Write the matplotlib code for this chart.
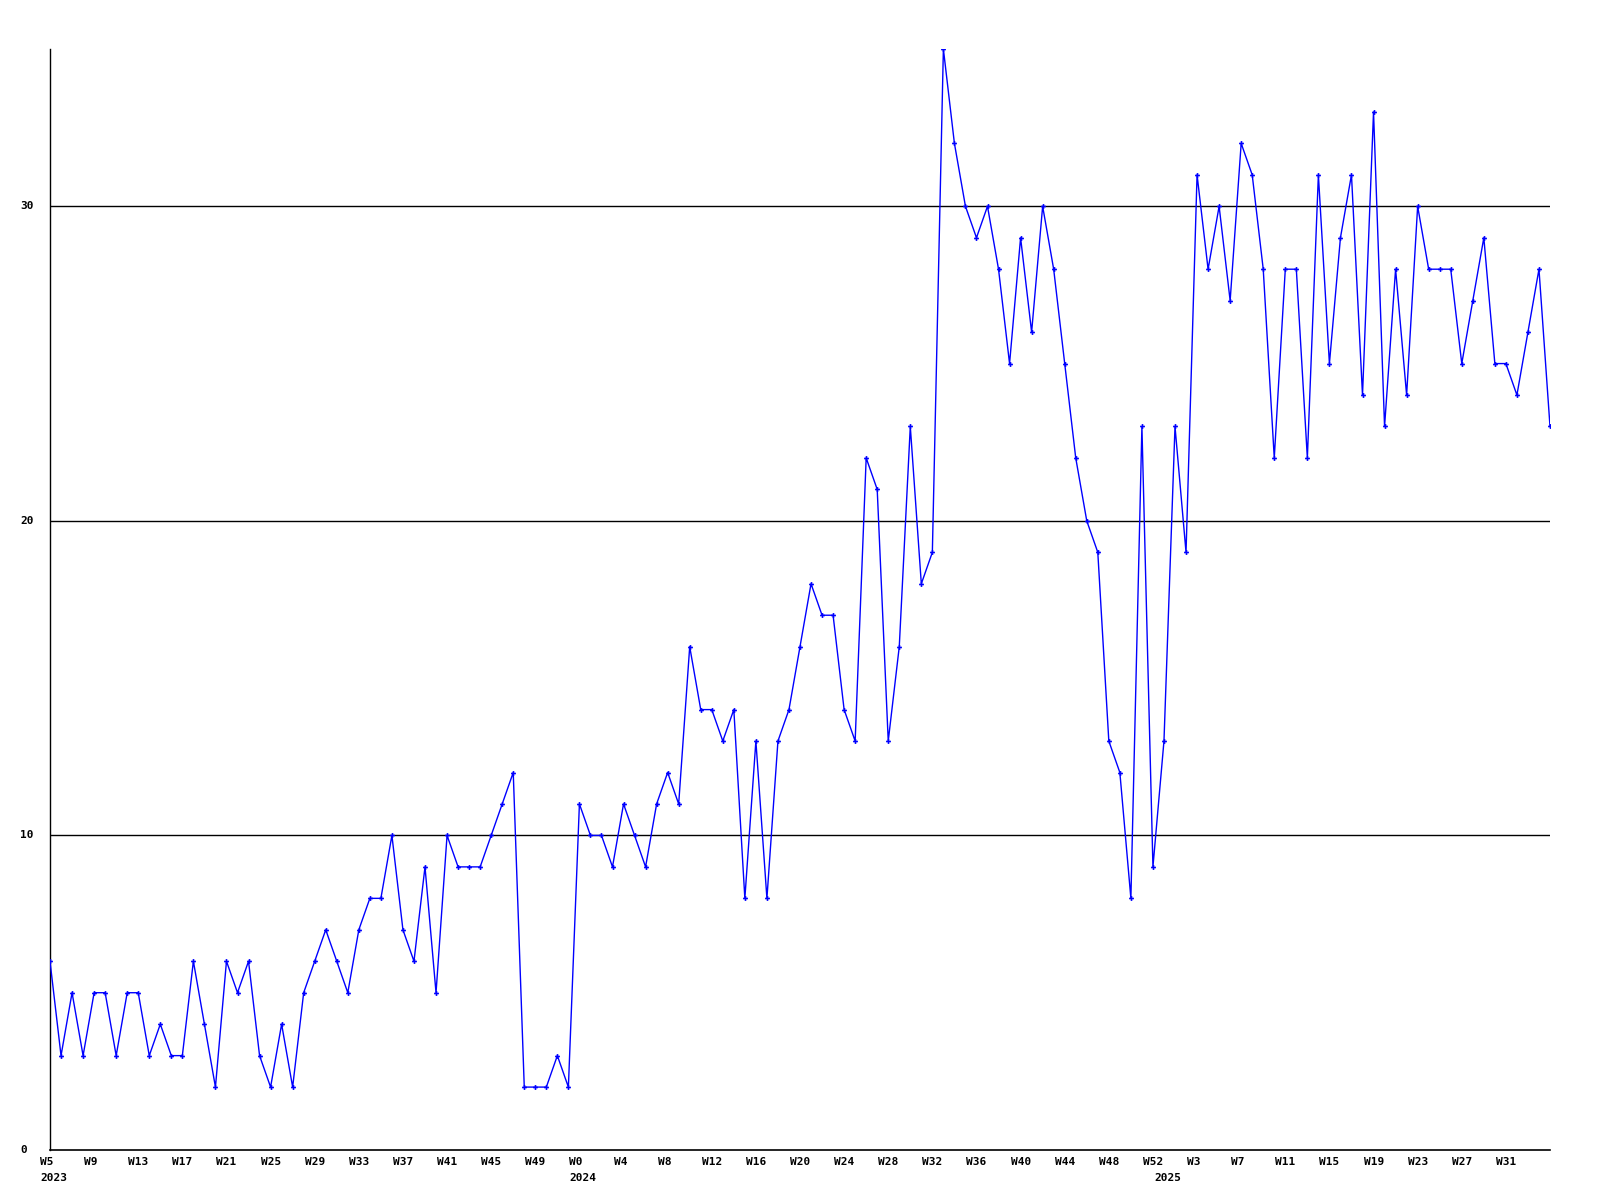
import matplotlib
matplotlib.use("Agg")
import matplotlib.pyplot as plt
from matplotlib import transforms

# weekly counts, W5 2023 .. W35 2025
values_2023 = [6, 3, 5, 3, 5, 5, 3, 5, 5, 3, 4, 3, 3, 6, 4, 2, 6, 5, 6, 3,
               2, 4, 2, 5, 6, 7, 6, 5, 7, 8, 8, 10, 7, 6, 9, 5, 10, 9, 9, 9,
               10, 11, 12, 2, 2, 2, 3, 2]
values_2024 = [11, 10, 10, 9, 11, 10, 9, 11, 12, 11, 16, 14, 14, 13, 14, 8, 13, 8,
               13, 14, 16, 18, 17, 17, 14, 13, 22, 21, 13, 16, 23, 18, 19, 35, 32,
               30, 29, 30, 28, 25, 29, 26, 30, 28, 25, 22, 20, 19, 13, 12, 8, 23, 9]
values_2025 = [13, 23, 19, 31, 28, 30, 27, 32, 31, 28, 22, 28, 28, 22, 31, 25, 29,
               31, 24, 33, 23, 28, 24, 30, 28, 28, 28, 25, 27, 29, 25, 25, 24, 26,
               28, 23]

weeks_2023 = list(range(5, 53))
weeks_2024 = list(range(0, 53))
weeks_2025 = list(range(0, 36))

values = values_2023 + values_2024 + values_2025
weeks = weeks_2023 + weeks_2024 + weeks_2025
years = {0: "2023", len(weeks_2023): "2024", len(weeks_2023) + len(weeks_2024): "2025"}
y_grid = [10, 20, 30]

fig = plt.figure(figsize=(16, 12), dpi=100)
ax = fig.add_axes([50 / 1600, 50 / 1200, 1500 / 1600, 1101 / 1200])

x = list(range(len(values)))
ax.plot(x, values, color="#0000ff", linewidth=1.0, marker="P", markersize=3.5,
        markeredgewidth=0, zorder=3)

for g in y_grid:
    ax.axhline(g, color="black", linewidth=1.0, zorder=1)

ax.set_xlim(0, len(values) - 1)
ax.set_ylim(0, 35)
ax.spines["top"].set_visible(False)
ax.spines["right"].set_visible(False)
ax.spines["left"].set_linewidth(1.0)
ax.spines["bottom"].set_linewidth(1.2)
ax.set_xticks([])
ax.set_yticks([])

font = dict(family="DejaVu Sans Mono", fontweight="bold", fontsize=8)

# y labels
ytrans = transforms.blended_transform_factory(fig.transFigure, ax.transData)
for g in [0] + y_grid:
    ax.text(20 / 1600, g, str(g), transform=ytrans, ha="left", va="center", **font)

# x labels, every 4th week (last point has no label)
xtrans = transforms.offset_copy(
    transforms.blended_transform_factory(ax.transData, fig.transFigure),
    fig=fig, x=-10, units="dots")
for i in range(0, len(weeks) - 1, 4):
    ax.text(i, 1 - 1157 / 1200, "W%d" % weeks[i], transform=xtrans,
            ha="left", va="top", clip_on=False, **font)
for i, yr in years.items():
    ax.text(i, 1 - 1173 / 1200, yr, transform=xtrans,
            ha="left", va="top", clip_on=False, **font)

fig.savefig("out.png", dpi=100, facecolor="white")
